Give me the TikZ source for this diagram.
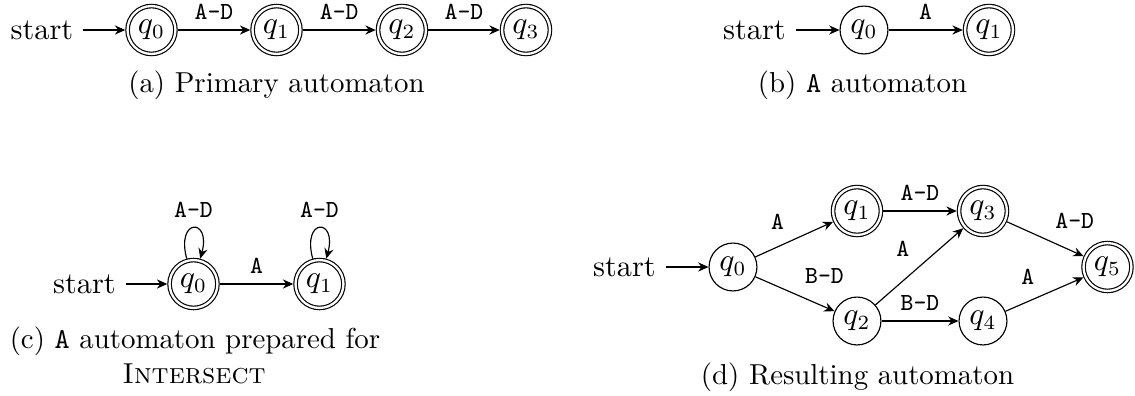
\documentclass[tikz,border=0pt]{standalone}
\usetikzlibrary{arrows.meta}
\begin{document}
\begin{tikzpicture}[x=0.3466pt,y=-0.3466pt,
  st/.style={circle,draw,minimum size=16.6pt,inner sep=0pt,font=\fontsize{10.5}{12.6}\selectfont},
  acc/.style={double,double distance=0.8pt,outer sep=0.8pt},
  stxt/.style={font=\fontsize{10.5}{12.6}\selectfont},
  lbl/.style={font=\ttfamily\fontsize{8.5}{10}\selectfont},
  captxt/.style={font=\fontsize{10}{12}\selectfont,anchor=base},
  tr/.style={-{Stealth[length=3.6pt,width=3.2pt,inset=1.2pt]}},
  selfloop/.style={out=105,in=75,looseness=8,min distance=5mm}
]
\useasboundingbox (0,0) rectangle (1135,395);

% (a)
\node[stxt] (sa) at (42,30) {start};
\node[st,acc] (a0) at (151.5,30) {$q_0$};
\node[st,acc] (a1) at (276.5,30) {$q_1$};
\node[st,acc] (a2) at (402,30) {$q_2$};
\node[st,acc] (a3) at (526,30) {$q_3$};
\draw[tr] (sa) -- (a0);
\draw[tr] (a0) -- node[lbl,above] {A-D} (a1);
\draw[tr] (a1) -- node[lbl,above] {A-D} (a2);
\draw[tr] (a2) -- node[lbl,above] {A-D} (a3);
\node[captxt] (capa) at (276.5,92) {(a) Primary automaton};

% (b)
\node[stxt] (sb) at (754.5,30) {start};
\node[st] (b0) at (864,30) {$q_0$};
\node[st,acc] (b1) at (989,30) {$q_1$};
\draw[tr] (sb) -- (b0);
\draw[tr] (b0) -- node[lbl,above] {A} (b1);
\node[captxt] (capb) at (862.5,92) {(b) \texttt{A} automaton};

% (c)
\node[stxt] (sc) at (84.5,284) {start};
\node[st,acc] (c0) at (193.5,284) {$q_0$};
\node[st,acc] (c1) at (319.5,284) {$q_1$};
\draw[tr] (sc) -- (c0);
\draw[tr] (c0) -- node[lbl,above] {A} (c1);
\draw[tr] (c0) to[selfloop] node[lbl,above] {A-D} (c0);
\draw[tr] (c1) to[selfloop] node[lbl,above] {A-D} (c1);
\node[captxt] (capc1) at (195,348) {(c) \texttt{A} automaton prepared for};
\node[captxt] (capc2) at (194,383) {\textsc{Intersect}};

% (d)
\node[stxt] (sd) at (624.5,267) {start};
\node[st] (d0) at (733,267) {$q_0$};
\node[st,acc] (d1) at (857,211) {$q_1$};
\node[st] (d2) at (857,321) {$q_2$};
\node[st,acc] (d3) at (983,211) {$q_3$};
\node[st] (d4) at (983,321) {$q_4$};
\node[st,acc] (d5) at (1107.5,267) {$q_5$};
\draw[tr] (sd) -- (d0);
\draw[tr] (d0) -- node[lbl,auto] {A} (d1);
\draw[tr] (d0) -- node[lbl,auto] {B-D} (d2);
\draw[tr] (d1) -- node[lbl,auto] {A-D} (d3);
\draw[tr] (d2) -- node[lbl,auto] {A} (d3);
\draw[tr] (d2) -- node[lbl,auto] {B-D} (d4);
\draw[tr] (d3) -- node[lbl,auto] {A-D} (d5);
\draw[tr] (d4) -- node[lbl,auto] {A} (d5);
\node[captxt] (capd) at (857.5,384) {(d) Resulting automaton};
\end{tikzpicture}
\end{document}
